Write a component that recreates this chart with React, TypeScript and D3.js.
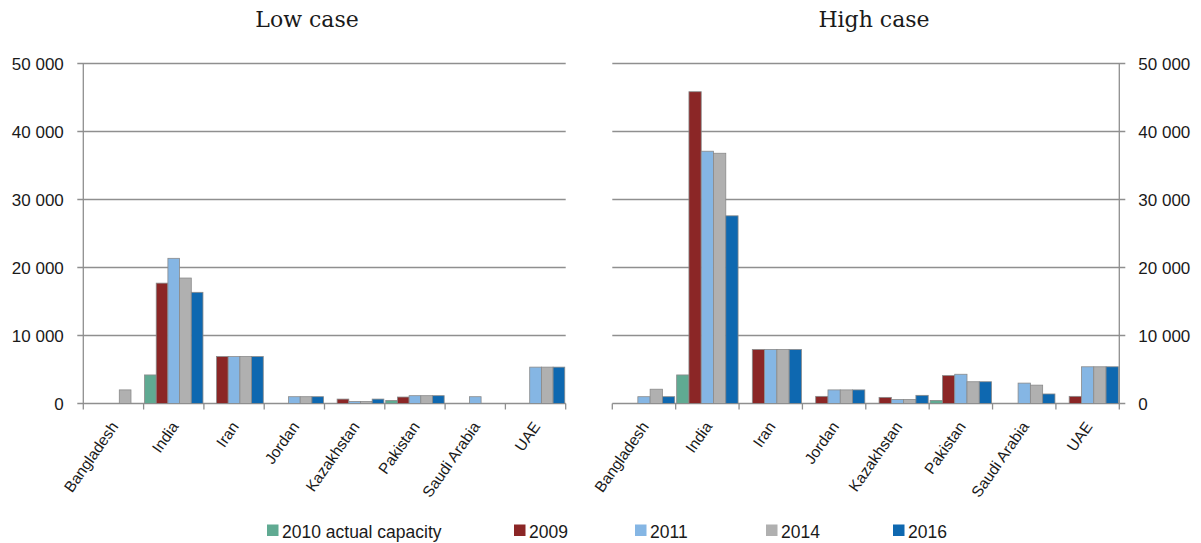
import React from "react";
import * as d3 from "d3";

// Countries on the category axis
const categories = [
  "Bangladesh",
  "India",
  "Iran",
  "Jordan",
  "Kazakhstan",
  "Pakistan",
  "Saudi Arabia",
  "UAE",
];

const seriesNames = ["2010 actual capacity", "2009", "2011", "2014", "2016"];
const seriesColors = ["#60AA92", "#8B2626", "#85B6E4", "#B0B0B0", "#0E68B0"];

// Low case (MW)
const lowActual2010 = [0, 4200, 0, 0, 0, 450, 0, 0];
const low2009 = [0, 17700, 6900, 0, 650, 950, 0, 0];
const low2011 = [0, 21350, 6900, 1000, 300, 1150, 1000, 5350];
const low2014 = [2000, 18450, 6900, 1000, 300, 1150, 0, 5350];
const low2016 = [0, 16350, 6900, 1000, 650, 1150, 0, 5350];

// High case (MW)
const highActual2010 = [0, 4200, 0, 0, 0, 450, 0, 0];
const high2009 = [0, 45850, 7950, 1050, 900, 4100, 0, 1050];
const high2011 = [1000, 37100, 7950, 2000, 600, 4300, 3000, 5400];
const high2014 = [2100, 36800, 7950, 2000, 600, 3200, 2700, 5400];
const high2016 = [1000, 27600, 7950, 2000, 1200, 3200, 1400, 5400];

const yTicks = [0, 10000, 20000, 30000, 40000, 50000];

const W = 1201;
const H = 543;
const Y0 = 403.5;
const Y1 = 63.5;

const sansFont = "'Liberation Sans', Arial, sans-serif";
const serifFont = "'DejaVu Serif', serif";
const gridColor = "#8F8F8F";
const textColor = "#1A1A1A";

const fmt = d3.formatLocale({
  decimal: ".",
  thousands: " ",
  grouping: [3],
  currency: ["", ""],
}).format(",");

type PanelProps = {
  title: string;
  titleX: number;
  left: number;
  right: number;
  axisSide: "left" | "right";
  series: number[][];
};

function Panel({ title, titleX, left, right, axisSide, series }: PanelProps) {
  const y = d3.scaleLinear().domain([0, 50000]).range([Y0, Y1]);
  const x0 = d3.scaleBand<string>().domain(categories).range([left, right]).padding(0);
  const x1 = d3
    .scaleBand<number>()
    .domain(d3.range(seriesNames.length))
    .range([0, x0.bandwidth()])
    .paddingInner(0)
    .paddingOuter(0.08);

  const axisX = axisSide === "left" ? left : right;
  const gridStart = axisSide === "left" ? left - 6 : left;
  const gridEnd = axisSide === "left" ? right : right + 6;

  return (
    <g>
      <text
        x={titleX}
        y={27}
        textAnchor="middle"
        fontFamily={serifFont}
        fontSize={22}
        fill={textColor}
      >
        {title}
      </text>

      {/* horizontal gridlines with axis ticks */}
      {yTicks.map((t) => (
        <line
          key={t}
          x1={gridStart}
          x2={gridEnd}
          y1={y(t)}
          y2={y(t)}
          stroke={gridColor}
          strokeWidth={1.3}
        />
      ))}

      {/* value axis line */}
      <line x1={axisX} x2={axisX} y1={Y1} y2={Y0} stroke={gridColor} strokeWidth={1.3} />

      {/* value axis labels */}
      {yTicks.map((t) => (
        <text
          key={"l" + t}
          x={axisSide === "left" ? axisX - 19.5 : axisX + 19}
          y={y(t) + 6}
          textAnchor={axisSide === "left" ? "end" : "start"}
          fontFamily={sansFont}
          fontSize={17}
          fill={textColor}
        >
          {fmt(t)}
        </text>
      ))}

      {/* bars */}
      {categories.map((c, ci) => (
        <g key={c} transform={`translate(${x0(c)},0)`}>
          {series.map((vals, si) =>
            vals[ci] > 0 ? (
              <rect
                key={si}
                x={x1(si)}
                y={y(vals[ci])}
                width={x1.bandwidth()}
                height={Y0 - y(vals[ci])}
                fill={seriesColors[si]}
                stroke="#8A8A8A"
                strokeWidth={0.8}
              />
            ) : null
          )}
        </g>
      ))}

      {/* category axis ticks */}
      {d3.range(categories.length + 1).map((i) => {
        const xv = left + i * x0.step();
        return (
          <line
            key={"t" + i}
            x1={xv}
            x2={xv}
            y1={Y0}
            y2={Y0 + 6}
            stroke={gridColor}
            strokeWidth={1.3}
          />
        );
      })}

      {/* category labels */}
      {categories.map((c) => {
        const cx = (x0(c) as number) + x0.bandwidth() / 2 + 5.5;
        const cy = 426.5;
        return (
          <text
            key={"c" + c}
            x={0}
            y={0}
            transform={`translate(${cx},${cy}) rotate(-55)`}
            textAnchor="end"
            fontFamily={sansFont}
            fontSize={15.5}
            fill={textColor}
          >
            {c}
          </text>
        );
      })}
    </g>
  );
}

const legendSquares = [267, 514, 635, 766, 893];

export default function App() {
  return (
    <div style={{ position: "absolute", left: 0, top: 0 }}>
      <svg width={W} height={H} style={{ display: "block", background: "#fff" }}>
        <rect width={W} height={H} fill="#fff" />
        <Panel
          title="Low case"
          titleX={307}
          left={83.3}
          right={565.7}
          axisSide="left"
          series={[lowActual2010, low2009, low2011, low2014, low2016]}
        />
        <Panel
          title="High case"
          titleX={874}
          left={612.3}
          right={1119.3}
          axisSide="right"
          series={[highActual2010, high2009, high2011, high2014, high2016]}
        />
        {/* legend */}
        {seriesNames.map((name, i) => (
          <g key={name} transform={`translate(${legendSquares[i]},0)`}>
            <rect x={0} y={524.5} width={11.5} height={11.5} fill={seriesColors[i]} />
            <text
              x={15}
              y={537.5}
              fontFamily={sansFont}
              fontSize={17.5}
              fill={textColor}
            >
              {name}
            </text>
          </g>
        ))}
      </svg>
    </div>
  );
}
